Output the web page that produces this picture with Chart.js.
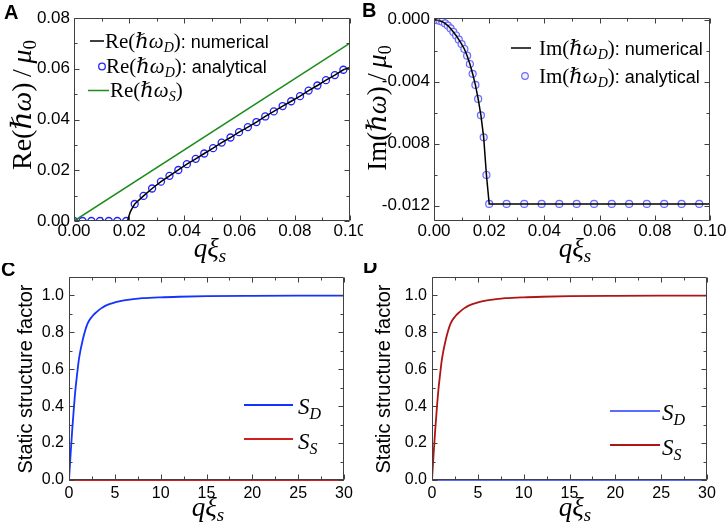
<!DOCTYPE html>
<html><head><meta charset="utf-8">
<script src="https://cdn.jsdelivr.net/npm/chart.js@4/dist/chart.umd.min.js"></script>
<style>
html,body{margin:0;padding:0;background:#fff;}
#wrap{position:relative;width:726px;height:526px;overflow:hidden;background:#fff;}
canvas{position:absolute;}
</style></head><body>
<div id="wrap">
<canvas id="cA" width="363" height="263" style="left:0;top:0"></canvas>
<canvas id="cB" width="363" height="263" style="left:363px;top:0"></canvas>
<canvas id="cC" width="363" height="263" style="left:0;top:263px"></canvas>
<canvas id="cD" width="363" height="263" style="left:363px;top:263px"></canvas>
</div>
<script>
// ---------------- DATA ----------------
// Panel A: Re(hbar omega)/mu0 vs q xi_s
const aCircleX = [0,0.0031,0.0063,0.0094,0.0126,0.0157,0.0189,0.0220,0.0252,0.0283,0.0315,0.0346,0.0378,0.0409,0.0441,0.0472,0.0504,0.0535,0.0567,0.0598,0.0630,0.0661,0.0693,0.0724,0.0756,0.0787,0.0819,0.0850,0.0882,0.0913,0.0945,0.0976];
const aCircleY = [0,0,0,0,0,0,0,0.0067,0.0099,0.0128,0.0155,0.0178,0.0201,0.0224,0.0245,0.0266,0.0287,0.0309,0.0329,0.0350,0.0370,0.0390,0.0412,0.0432,0.0453,0.0472,0.0492,0.0514,0.0534,0.0555,0.0575,0.0596];
const aNumX = [0,0.0194,0.0196,0.0198,0.0204,0.0212,0.0220,0.0252,0.0283,0.0315,0.0346,0.0378,0.0409,0.0441,0.0472,0.0504,0.0535,0.0567,0.0598,0.0630,0.0661,0.0693,0.0724,0.0756,0.0787,0.0819,0.0850,0.0882,0.0913,0.0945,0.0976,0.1000];
const aNumY = [0,0,0.0008,0.0016,0.0036,0.0053,0.0067,0.0099,0.0128,0.0155,0.0178,0.0201,0.0224,0.0245,0.0266,0.0287,0.0309,0.0329,0.0350,0.0370,0.0390,0.0412,0.0432,0.0453,0.0472,0.0492,0.0514,0.0534,0.0555,0.0575,0.0596,0.0605];
const aSX = [0,0.1];
const aSY = [0,0.0701];
const aXTicks = [0,0.02,0.04,0.06,0.08,0.10];
const aXTickLabels = ['0.00','0.02','0.04','0.06','0.08','0.10'];
const aXMinor = [0.01,0.03,0.05,0.07,0.09];
const aYTicks = [0,0.02,0.04,0.06,0.08];
const aYTickLabels = ['0.00','0.02','0.04','0.06','0.08'];
const aYMinor = [0.01,0.03,0.05,0.07];

// Panel B: Im(hbar omega)/mu0 vs q xi_s
const bCircleX = [0.001,0.002,0.003,0.004,0.005,0.006,0.007,0.008,0.009,0.010,0.011,0.012,0.013,0.014,0.015,0.016,0.017,0.018,0.019,0.020,0.0263,0.0327,0.0390,0.0454,0.0517,0.0580,0.0644,0.0707,0.0771,0.0834,0.0897,0.0961];
const bCircleY = [-0.00004,-0.00008,-0.00014,-0.00025,-0.00039,-0.00057,-0.0008,-0.00103,-0.0013,-0.00158,-0.0019,-0.00233,-0.00287,-0.0035,-0.00422,-0.00512,-0.00618,-0.0076,-0.01003,-0.0119,-0.0119,-0.0119,-0.0119,-0.0119,-0.0119,-0.0119,-0.0119,-0.0119,-0.0119,-0.0119,-0.0119,-0.0119];
const bNumX = [0,0.001,0.002,0.003,0.004,0.005,0.006,0.007,0.008,0.009,0.010,0.011,0.012,0.013,0.014,0.015,0.016,0.017,0.018,0.019,0.020,0.100];
const bNumY = [0,-0.00004,-0.00008,-0.00014,-0.00025,-0.00039,-0.00057,-0.0008,-0.00103,-0.0013,-0.00158,-0.0019,-0.00233,-0.00287,-0.0035,-0.00422,-0.00512,-0.00618,-0.0076,-0.01003,-0.0119,-0.0119];
const bYTicks = [-0.012,-0.008,-0.004,0];
const bYTickLabels = ['-0.012','-0.008','-0.004','0.000'];
const bYMinor = [-0.010,-0.006,-0.002];

// Panels C, D: static structure factor vs q xi_s
const sQ   = [0,0.1,0.2,0.35,0.5,0.7,0.9,1.1,1.5,2,2.5,3,3.5,4,5,6,7,8,10,12,15,20,25,30];
const sVal = [0,0.08,0.16,0.27,0.37,0.49,0.58,0.66,0.76,0.845,0.885,0.91,0.93,0.945,0.962,0.973,0.98,0.985,0.99,0.993,0.996,0.998,0.999,0.999];
const zeroQ = [0,30];
const zeroVal = [0,0];
const cXTicks = [0,5,10,15,20,25,30];
const cXTickLabels = ['0','5','10','15','20','25','30'];
const cXMinor = [2.5,7.5,12.5,17.5,22.5,27.5];
const cYTicks = [0,0.2,0.4,0.6,0.8,1.0];
const cYTickLabels = ['0.0','0.2','0.4','0.6','0.8','1.0'];
const cYMinor = [0.1,0.3,0.5,0.7,0.9];

// ---------------- HELPERS ----------------
const SERIF = '"Liberation Serif","DejaVu Serif",serif';
const SANS  = '"Liberation Sans","DejaVu Sans",Arial,sans-serif';
const R  = (t,s,dy)=>({t,f:`${s}px ${SERIF}`,dy:dy||0});
const I  = (t,s,dy)=>({t,f:`italic ${s}px ${SERIF}`,dy:dy||0});
const SN = (t,s,dy)=>({t,f:`${s}px ${SANS}`,dy:dy||0});
const BD = (t,s)=>({t,f:`bold ${s}px ${SANS}`,dy:0});
const pts = (xs,ys)=>xs.map((x,i)=>({x,y:ys[i]}));

function rich(ctx, segs, x, y, o){
  o = o||{};
  ctx.save();
  ctx.translate(x,y);
  if(o.rot) ctx.rotate(o.rot);
  let w=0;
  for(const s of segs){ctx.font=s.f; s.w=ctx.measureText(s.t).width; w+=s.w;}
  let cx = o.align==='center' ? -w/2 : 0;
  ctx.fillStyle = o.color||'#000';
  ctx.textBaseline='alphabetic';
  for(const s of segs){ctx.font=s.f; ctx.fillText(s.t,cx,(o.by||0)+s.dy); cx+=s.w;}
  ctx.restore();
}
function hline(ctx,x1,x2,y,color,w){
  ctx.save();ctx.strokeStyle=color;ctx.lineWidth=w;ctx.beginPath();ctx.moveTo(x1,y);ctx.lineTo(x2,y);ctx.stroke();ctx.restore();
}
function circ(ctx,x,y,r,stroke,fill,w){
  ctx.save();ctx.beginPath();ctx.arc(x,y,r,0,Math.PI*2);ctx.fillStyle=fill;ctx.fill();ctx.strokeStyle=stroke;ctx.lineWidth=w;ctx.stroke();ctx.restore();
}

function framePlugin(xMaj,xMin,yMaj,yMin){
  return {id:'frame', afterDatasetsDraw(chart){
    const {ctx, chartArea:a, scales:{x,y}} = chart;
    ctx.save();
    ctx.strokeStyle='#404040'; ctx.lineWidth=1;
    const L=Math.round(a.left)+0.5, Rr=Math.round(a.right)-0.5, T=Math.round(a.top)+0.5, B=Math.round(a.bottom)-0.5;
    ctx.beginPath();
    ctx.rect(L,T,Rr-L,B-T);
    const xt=(vals,len)=>vals.forEach(v=>{const p=Math.round(x.getPixelForValue(v))+0.5; ctx.moveTo(p,B);ctx.lineTo(p,B-len);ctx.moveTo(p,T);ctx.lineTo(p,T+len);});
    const yt=(vals,len)=>vals.forEach(v=>{const p=Math.round(y.getPixelForValue(v))+0.5; ctx.moveTo(L,p);ctx.lineTo(L+len,p);ctx.moveTo(Rr,p);ctx.lineTo(Rr-len,p);});
    xt(xMaj,5); xt(xMin,3); yt(yMaj,5); yt(yMin,3);
    ctx.stroke();
    ctx.restore();
  }};
}
function decoPlugin(fn){ return {id:'deco', afterDraw(chart){ fn(chart.ctx, chart); }}; }

function axis(pos,min,max,ticks,labels,size,pad,fs){
  return {
    type:'linear', position:pos, min, max,
    grid:{display:false, drawTicks:false}, border:{display:false},
    ticks:{font:{family:SANS,size:fs}, color:'#000', padding:pad, autoSkip:false, maxRotation:0, minRotation:0,
      callback:(v,i)=>labels[i]},
    afterBuildTicks:s=>{ s.ticks = ticks.map(v=>({value:v})); },
    afterFit:s=>{ if(pos==='left') s.width=size; else s.height=size;
      s.paddingLeft=0; s.paddingRight=0; s.paddingTop=0; s.paddingBottom=0; }
  };
}
function makeChart(id, datasets, scales, pad, plugins){
  return new Chart(document.getElementById(id), {
    type:'scatter',
    data:{datasets},
    options:{
      responsive:false, animation:false, events:[],
      layout:{padding:pad, autoPadding:false},
      plugins:{legend:{display:false}, tooltip:{enabled:false}},
      scales
    },
    plugins
  });
}
const lineDS = (data,color,w,extra)=>Object.assign({data, showLine:true, borderColor:color, borderWidth:w, pointRadius:0, fill:false, tension:0}, extra||{});
const circDS = (data,stroke,fill,r,w)=>({data, showLine:false, pointStyle:'circle', pointRadius:r, pointBorderColor:stroke, pointBackgroundColor:fill, pointBorderWidth:w});

const xTitle = (ctx,cx,by)=>rich(ctx,[I('q',27),I('ξ',27),I('s',19,5)],cx,by,{align:'center'});
const TS = '\u2009';

// ---------------- PANEL A ----------------
makeChart('cA', [
  lineDS(pts(aSX,aSY),'#1b8c1b',1.5),
  lineDS(pts(aNumX,aNumY),'#000',1.5),
  circDS(pts(aCircleX,aCircleY),'#2222ff','#ffffff',3.5,1.3)
], {
  x: axis('bottom',0,0.1,aXTicks,aXTickLabels,42,0,17),
  y: axis('left',0,0.08,aYTicks,aYTickLabels,74,4,17)
}, {left:0,top:18,right:13,bottom:0}, [
  framePlugin(aXTicks,aXMinor,aYTicks,aYMinor),
  decoPlugin(ctx=>{
    rich(ctx,[BD('A',20)],4,19);
    const yt=[R('Re(',28),I('ℏω',28),R(')'+TS+'/'+TS,28),I('μ',28),R('0',19,5)];
    rich(ctx,yt,22,105,{rot:-Math.PI/2,align:'center',by:9});
    xTitle(ctx,210,257);
    hline(ctx,90,104,41,'#000',1.5);
    rich(ctx,[R('Re(',21),I('ℏω',21),I('D',14,4),R(')',21),SN(': numerical',18)],105,48);
    circ(ctx,102,66.5,3.3,'#2222ff','#fff',1.3);
    rich(ctx,[R('Re(',21),I('ℏω',21),I('D',14,4),R(')',21),SN(': analytical',18)],106,73);
    hline(ctx,88,109,90.5,'#1b8c1b',1.5);
    rich(ctx,[R('Re(',21),I('ℏω',21),I('S',14,4),R(')',21)],110,97);
  })
]);

// ---------------- PANEL B ----------------
makeChart('cB', [
  lineDS(pts(bNumX,bNumY),'#000',1.5),
  circDS(pts(bCircleX,bCircleY),'#6b6bff','#f2f2ff',3.5,1.2)
], {
  x: axis('bottom',0,0.1,aXTicks,aXTickLabels,42,0,17),
  y: axis('left',-0.013,0.0001,bYTicks,bYTickLabels,71,4,17)
}, {left:0,top:18,right:16,bottom:0}, [
  framePlugin(aXTicks,aXMinor,bYTicks,bYMinor),
  decoPlugin(ctx=>{
    rich(ctx,[BD('B',20)],-1,17);
    const yt=[R('Im(',27),I('ℏω',27),R(')'+TS+'/'+TS,27),I('μ',27),R('0',18,5)];
    rich(ctx,yt,14,108,{rot:-Math.PI/2,align:'center',by:9});
    xTitle(ctx,212,257);
    hline(ctx,148,168,48,'#000',1.5);
    rich(ctx,[R('Im(',21),I('ℏω',21),I('D',14,4),R(')',21),SN(': numerical',18)],176,55);
    circ(ctx,162,76,3.3,'#6b6bff','#f2f2ff',1.2);
    rich(ctx,[R('Im(',21),I('ℏω',21),I('D',14,4),R(')',21),SN(': analytical',18)],176,83);
  })
]);

// ---------------- PANELS C, D ----------------
function ssPanel(id, letter, letterY, dCurveColor, sCurveColor, curveIsD, legY1, legY2, legX1, legX2, textX){
  const curve = lineDS(pts(sQ,sVal), curveIsD?dCurveColor:sCurveColor, 1.8, {cubicInterpolationMode:'monotone'});
  const flat  = lineDS(pts(zeroQ,zeroVal), curveIsD?sCurveColor:dCurveColor, 2.2, {clip:false});
  makeChart(id, [curve, flat], {
    x: axis('bottom',0,30,cXTicks,cXTickLabels,46,4,16),
    y: axis('left',0,1.1,cYTicks,cYTickLabels,69,5,16)
  }, {left:0,top:14,right:19,bottom:0}, [
    framePlugin(cXTicks,cXMinor,cYTicks,cYMinor),
    decoPlugin(ctx=>{
      rich(ctx,[BD(letter,20)],id==='cC'?1:0,letterY);
      rich(ctx,[SN('Static structure factor',20)],id==='cC'?25:20,116,{rot:-Math.PI/2,align:'center',by:7});
      xTitle(ctx,id==='cC'?208:212,253);
      hline(ctx,legX1,legX2,legY1,dCurveColor,1.8);
      rich(ctx,[I('S',23),I('D',16,5)],textX,legY1+9);
      hline(ctx,legX1,legX2,legY2,sCurveColor,1.8);
      rich(ctx,[I('S',23),I('S',16,5)],textX,legY2+10);
    })
  ]);
}
ssPanel('cC','C',13,'#1433ff','#d41e1e',true,142,176,244,293,298);
ssPanel('cD','D',10,'#5a6cff','#b01515',false,148,182,247,297,299);
</script>
</body></html>
